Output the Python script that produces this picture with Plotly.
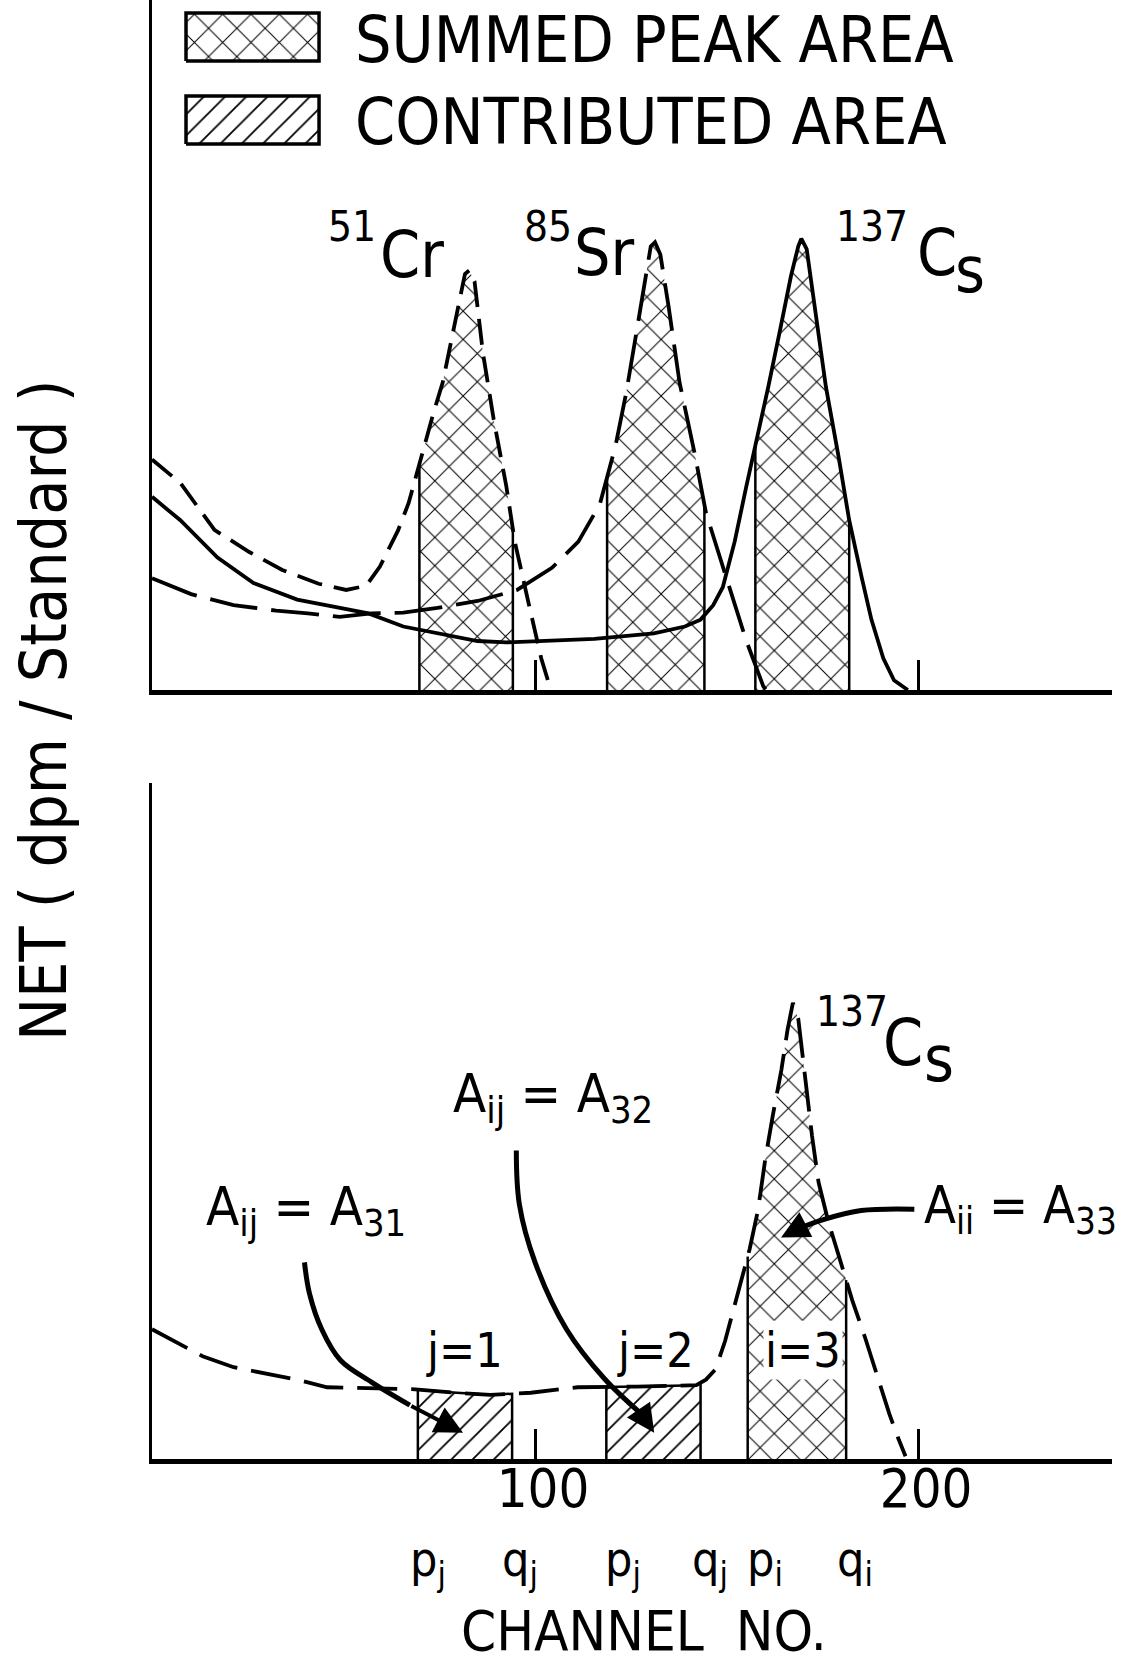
import numpy as np
import plotly.graph_objects as go

# ---------------- data ----------------
# top panel spectra: channel vs NET (arbitrary units)
cr51_ch = [0, 7.4, 16.3, 25.4, 34.0, 43.5, 50.7, 55.9, 59.5, 64.2, 67.0, 70.1, 73.4, 75.9,
           78.1, 80.3, 81.7, 82.8, 84.2, 86.4, 89.2, 92.5, 94.7, 98.3, 101.6, 104.1]
cr51_net = [33.4, 30.0, 23.2, 20.0, 17.4, 15.4, 14.5, 15.1, 17.9, 23.1, 27.1, 33.4, 40.0, 44.6,
            50.8, 56.9, 60.3, 60.8, 59.2, 48.8, 39.2, 29.5, 21.5, 12.6, 4.6, 0.0]

sr85_ch = [0, 10.2, 21.3, 32.4, 40.7, 49.0, 57.3, 65.6, 74.5, 85.0, 95.3, 104.4, 111.3, 116.9,
           121.0, 123.8, 126.6, 128.8, 130.2, 131.3, 132.7, 134.9, 137.7, 141.8, 144.6, 149.0,
           155.1, 159.6, 160.4]
sr85_net = [16.2, 13.9, 12.3, 11.5, 11.1, 10.6, 11.1, 11.2, 11.9, 12.9, 14.5, 17.7, 21.5, 26.9,
            35.4, 43.1, 52.3, 59.7, 64.3, 64.9, 63.1, 55.4, 44.6, 33.9, 25.7, 17.9,
            7.2, 0.5, 0.0]

cs137_ch = [0, 7.4, 17.1, 26.5, 37.9, 49.0, 56.5, 65.6, 76.7, 85.0, 92.5, 104.4, 115.5, 131.0,
            139.1, 143.2, 146.5, 149.0, 152.1, 155.1, 158.2, 160.9, 164.0, 166.8, 168.7, 169.5,
            170.9, 173.1, 175.9, 179.2, 182.0, 185.3, 187.8, 190.9, 193.7, 197.3]
cs137_net = [28.0, 24.6, 19.2, 15.5, 13.1, 11.9, 11.1, 9.2, 8.0, 7.1, 6.9, 7.1, 7.4, 8.2,
             9.2, 10.2, 12.3, 14.9, 21.5, 29.4, 36.9, 44.0, 52.3, 60.0, 64.3, 65.4,
             63.9, 55.4, 44.0, 33.9, 24.6, 16.2, 10.2, 4.6, 1.4, 0.0]

# bottom panel: 137Cs spectrum alone
cs_only_ch = [0, 7.4, 13.2, 21.3, 29.6, 37.9, 45.7, 57.3, 68.7, 79.5, 88.3, 98.9, 111.1, 126.6,
              142.1, 144.6, 147.1, 149.6, 152.1, 156.0, 158.2, 160.1, 162.1, 164.3, 165.9, 167.3,
              168.7, 170.6, 172.3, 174.0, 176.5, 179.8, 182.8, 186.2, 189.5, 192.5, 194.8, 196.7]
cs_only_net = [18.8, 16.7, 14.9, 13.3, 12.4, 11.5, 10.4, 10.2, 10.1, 9.6, 9.3, 9.6, 10.4, 10.5,
               10.7, 11.5, 13.0, 17.1, 22.1, 30.4, 36.1, 43.5, 49.9, 56.4, 62.2, 66.1,
               63.8, 54.4, 46.8, 40.1, 34.5, 28.5, 23.0, 17.5, 11.8, 6.5, 3.0, 0.4]

# integration windows (channels p .. q)
top_windows_p = [69.8, 118.8, 157.5]   # 51Cr, 85Sr, 137Cs
top_windows_q = [94.2, 144.2, 182.0]
bot_windows_p = [69.4, 118.6, 155.5]   # j=1, j=2, i=3
bot_windows_q = [94.0, 143.2, 181.2]

tick_vals = [100, 200]
tick_text = ["100", "200"]

FONT = "Liberation Sans Narrow, DejaVu Sans Condensed, Arial Narrow, sans-serif"
W, H = 1123, 1664


def PX(x):
    return x / W


def PY(y):
    return 1 - y / H


fig = go.Figure()

XR = [0, 250.6]
YR_TOP = [0, 100]
YR_BOT = [0, 97.97]

XHATCH = dict(shape="x", size=20, solidity=0.1, fgcolor="black", bgcolor="white",
              fillmode="replace")
DHATCH = dict(shape="/", size=15, solidity=0.12, fgcolor="black", bgcolor="white",
              fillmode="replace")


def window_poly(xs, ys, p, q):
    xs = np.asarray(xs, float)
    ys = np.asarray(ys, float)
    m = (xs > p) & (xs < q)
    px = [p, p] + list(xs[m]) + [q, q]
    py = [0, float(np.interp(p, xs, ys))] + list(ys[m]) + [float(np.interp(q, xs, ys)), 0]
    return px, py


def add_window(xs, ys, p, q, shape, xa, ya, outline_top=False):
    px, py = window_poly(xs, ys, p, q)
    fig.add_trace(go.Scatter(
        x=px, y=py, xaxis=xa, yaxis=ya, mode="lines", fill="toself",
        fillcolor="white", fillpattern=XHATCH if shape == "x" else DHATCH,
        line=dict(width=2.5 if outline_top else 0, color="black"),
        hoverinfo="skip", showlegend=False))
    if not outline_top:
        fig.add_trace(go.Scatter(
            x=[p, p, None, q, q], y=[0, py[1], None, 0, py[-2]], xaxis=xa, yaxis=ya,
            mode="lines", line=dict(color="black", width=2.5),
            hoverinfo="skip", showlegend=False))


# ---------- top panel ----------
spectra_top = [(cr51_ch, cr51_net), (sr85_ch, sr85_net), (cs137_ch, cs137_net)]
for (xs, ys), p, q in zip(spectra_top, top_windows_p, top_windows_q):
    add_window(xs, ys, p, q, "x", "x", "y")

fig.add_trace(go.Scatter(x=cr51_ch, y=cr51_net, mode="lines", xaxis="x", yaxis="y",
                         line=dict(color="black", width=3.8, dash="26px,12px"),
                         showlegend=False))
fig.add_trace(go.Scatter(x=sr85_ch, y=sr85_net, mode="lines", xaxis="x", yaxis="y",
                         line=dict(color="black", width=3.8, dash="48px,14px"),
                         showlegend=False))
fig.add_trace(go.Scatter(x=cs137_ch, y=cs137_net, mode="lines", xaxis="x", yaxis="y",
                         line=dict(color="black", width=3.8), showlegend=False))

# legend swatches (drawn in the top panel)
leg_x0, leg_x1 = (186 - 152) / 3.83, (319 - 152) / 3.83
for (ytop, ybot), shape in [((13, 61), "x"), ((96, 144), "/")]:
    v0, v1 = (690 - ybot) / 6.9, (690 - ytop) / 6.9
    fig.add_trace(go.Scatter(
        x=[leg_x0, leg_x1, leg_x1, leg_x0, leg_x0], y=[v0, v0, v1, v1, v0],
        xaxis="x", yaxis="y", mode="lines", fill="toself", fillcolor="white",
        fillpattern=XHATCH if shape == "x" else DHATCH,
        line=dict(color="black", width=3.5), hoverinfo="skip", showlegend=False))

# ---------- bottom panel ----------
shapes_bot = ["/", "/", "x"]
for p, q, s in zip(bot_windows_p, bot_windows_q, shapes_bot):
    add_window(cs_only_ch, cs_only_net, p, q, s, "x2", "y2", outline_top=(s == "/"))

fig.add_trace(go.Scatter(x=cs_only_ch, y=cs_only_net, mode="lines", xaxis="x2", yaxis="y2",
                         line=dict(color="black", width=3.8, dash="40px,14px"),
                         showlegend=False))

# curved pointer arrows (bottom panel, data coordinates)
arrow_paths = [
    ([39.8, 41.1, 44.3, 49.2, 57.4, 67.3, 81.2], [28.5, 24.0, 18.8, 14.3, 11.1, 7.8, 3.8]),
    ([95.1, 95.9, 100.0, 108.2, 118.0, 127.8, 131.1], [44.7, 36.9, 28.5, 18.8, 11.7, 6.5, 3.8]),
    ([199.0, 185.1, 175.3, 168.7, 164.2], [36.2, 36.0, 34.7, 33.4, 32.1]),
]
annotations = []
for ax_, ay_ in arrow_paths:
    fig.add_trace(go.Scatter(x=ax_[:-1], y=ay_[:-1], mode="lines", xaxis="x2", yaxis="y2",
                             line=dict(color="black", width=5, shape="spline"),
                             hoverinfo="skip", showlegend=False))
    annotations.append(dict(x=ax_[-1], y=ay_[-1], ax=ax_[-2], ay=ay_[-2], xref="x2", yref="y2",
                            axref="x2", ayref="y2", text="", showarrow=True, arrowhead=2,
                            arrowsize=1.4, arrowwidth=4, arrowcolor="black"))


def txt(x, y, s, size, xanchor="center", yanchor="middle", **kw):
    d = dict(x=PX(x), y=PY(y), xref="paper", yref="paper", text=s, showarrow=False,
             xanchor=xanchor, yanchor=yanchor, font=dict(family=FONT, size=size, color="black"))
    d.update(kw)
    annotations.append(d)


# legend text
txt(353, 40, "SUMMED PEAK AREA", 64, xanchor="left")
txt(353, 122, "CONTRIBUTED AREA", 64, xanchor="left")

# isotope labels top
txt(352, 226, "51", 42)
txt(412, 255, "Cr", 64)
txt(548, 226, "85", 42)
txt(604, 253, "Sr", 64)
txt(872, 226, "137", 42)
txt(937, 253, "C", 64)
txt(970, 270, "s", 64)

# bottom labels
txt(852, 1012, "137", 42)
txt(903, 1043, "C", 64)
txt(939, 1059, "s", 64)
txt(553, 1097, "A<sub>ij</sub> = A<sub>32</sub>", 54)
txt(306, 1210, "A<sub>ij</sub> = A<sub>31</sub>", 54)
txt(922, 1209, "A<sub>ii</sub> = A<sub>33</sub>", 52, xanchor="left")
txt(464, 1350, "j=1", 48)
txt(655, 1350, "j=2", 48)
txt(803, 1350, "i=3", 48, bgcolor="white")

# p / q labels and axis titles
for xc, lab in zip([428, 520, 623, 710, 765, 855],
                   ["p<sub>j</sub>", "q<sub>j</sub>", "p<sub>j</sub>", "q<sub>j</sub>",
                    "p<sub>i</sub>", "q<sub>i</sub>"]):
    txt(xc, 1562, lab, 48)
txt(644, 1630, "CHANNEL  NO.", 56)
txt(44, 711, "NET ( dpm / Standard )", 64, textangle=-90)

axis_common = dict(range=XR, showgrid=False, zeroline=False, showline=True, linecolor="black",
                   linewidth=4.5, ticks="inside", ticklen=30, tickwidth=2.5, tickcolor="black",
                   tickvals=tick_vals, ticktext=tick_text, fixedrange=True)
yaxis_common = dict(showgrid=False, zeroline=False, showline=True, linecolor="black",
                    linewidth=3, ticks="", showticklabels=False, fixedrange=True)

fig.update_layout(
    width=W, height=H, margin=dict(l=0, r=0, t=0, b=0),
    paper_bgcolor="white", plot_bgcolor="white", showlegend=False,
    xaxis=dict(domain=[PX(152), PX(1112)], anchor="y", showticklabels=False, **axis_common),
    yaxis=dict(domain=[PY(690), 1.0], anchor="x", range=YR_TOP, **yaxis_common),
    xaxis2=dict(domain=[PX(152), PX(1112)], anchor="y2", showticklabels=True,
                ticklabelstandoff=-22, ticklabelshift=8,
                tickfont=dict(family=FONT, size=54, color="black"), **axis_common),
    yaxis2=dict(domain=[PY(1459), PY(783)], anchor="x2", range=YR_BOT, **yaxis_common),
    annotations=annotations,
)

fig.write_html("out.html")
